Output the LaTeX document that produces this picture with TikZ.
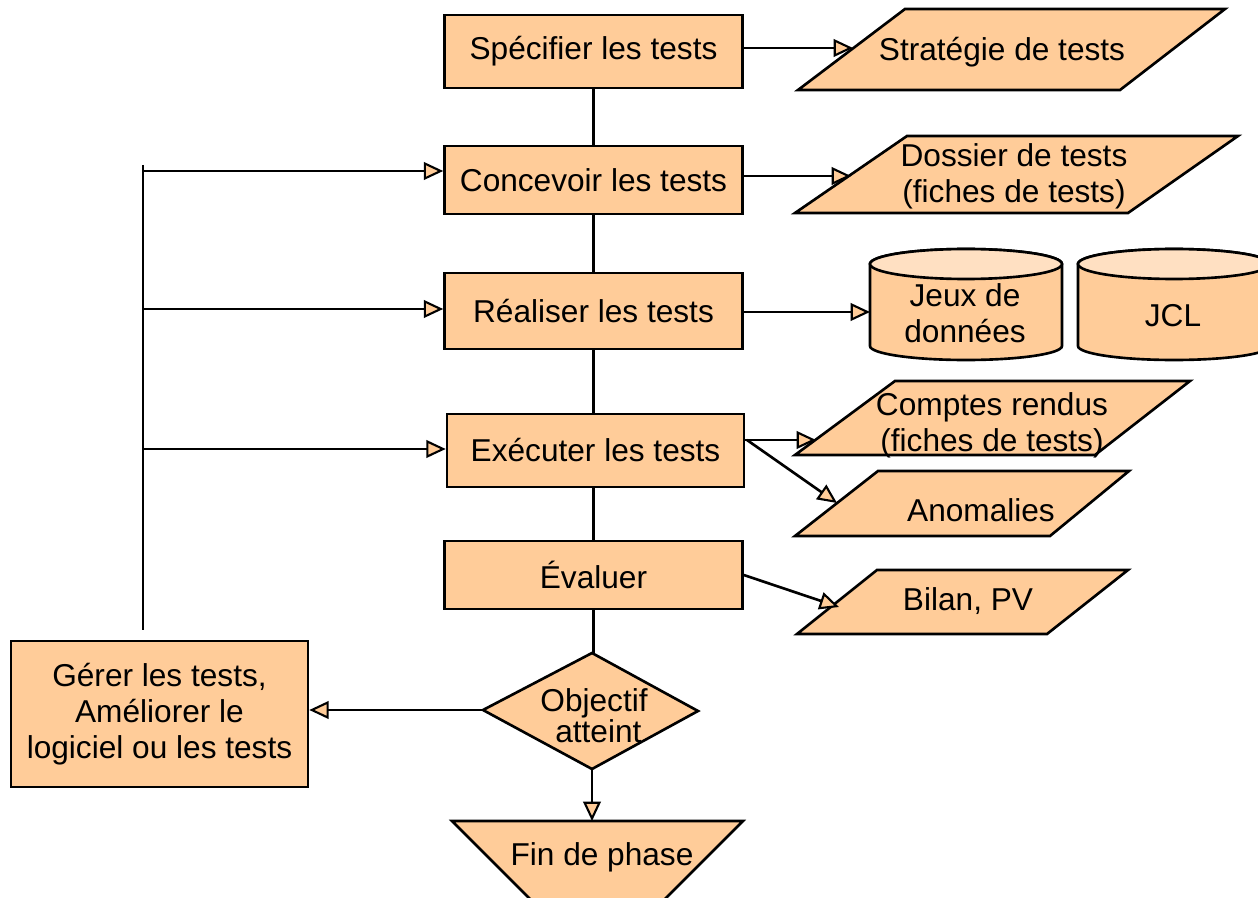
\documentclass[tikz,border=0pt]{standalone}
\usepackage{fontspec}
\setmainfont{Liberation Sans}
\usetikzlibrary{arrows.meta,shapes.geometric}
\definecolor{nfill}{RGB}{255,204,153}
\definecolor{ntop}{RGB}{255,224,194}
\begin{document}
\begin{tikzpicture}[x=0.02cm,y=-0.02cm,
  box/.style={draw,line width=1.5pt,fill=nfill,inner sep=0pt,align=center,font=\fontsize{18}{20.5}\selectfont},
  shp/.style={draw,line width=1.5pt,fill=nfill,line join=miter},
  lbl/.style={align=center,inner sep=0pt,font=\fontsize{18}{20.5}\selectfont},
  conn/.style={line width=1.5pt},
  arr/.style={conn,-{Triangle[length=11pt,width=10pt,fill=nfill,line width=1.2pt]}}]
\useasboundingbox (0,0) rectangle (1258,898);

% process boxes
\node[box,minimum width=5.96cm,minimum height=1.46cm] (spec) at (593.5,51.5) {Spécifier les tests};
\node[box,minimum width=5.96cm,minimum height=1.36cm] (conc) at (593.5,180) {Concevoir les tests};
\node[box,minimum width=5.96cm,minimum height=1.52cm] (real) at (593.5,311) {Réaliser les tests};
\node[box,minimum width=5.94cm,minimum height=1.46cm] (exec) at (595.5,450.5) {Exécuter les tests};
\node[box,minimum width=5.96cm,minimum height=1.36cm] (eval) at (593.5,575) {Évaluer};
\node[box,minimum width=5.94cm,minimum height=2.92cm] (gerer) at (159.5,714) {Gérer les tests,\\Améliorer le\\logiciel ou les tests};

% decision diamond
\coordinate (dtop) at (592,653);
\coordinate (dright) at (698,711);
\coordinate (dbot) at (592,769);
\coordinate (dleft) at (483,710);
\draw[shp] (dtop) -- (dright) -- (dbot) -- (dleft) -- cycle;
\node[lbl,font=\fontsize{18}{16}\selectfont] (obj) at (594,716) {Objectif\\\ atteint};

% end trapezoid
\draw[shp] (452,821) -- (743,821) -- (644,920) -- (551,920) -- cycle;
\coordinate (fintop) at (592,821);
\node[lbl] (fin) at (602,857) {Fin de phase};

% documents (parallelograms)
\draw[shp] (798,90) -- (905,9) -- (1225,9) -- (1120,90) -- cycle;
\node[lbl] (strat) at (1002,52) {Stratégie de tests};
\draw[shp] (795,213) -- (907,136) -- (1238,136) -- (1128,213) -- cycle;
\node[lbl] (doss) at (1014,176) {Dossier de tests\\(fiches de tests)};
\draw[shp] (795,455) -- (895,381) -- (1190,381) -- (1095,455) -- cycle;
\node[lbl] (cr) at (992,425) {Comptes rendus\\(fiches de tests)};
\draw[shp] (795,536) -- (878,471) -- (1129,471) -- (1050,536) -- cycle;
\node[lbl] (anom) at (981,510) {Anomalies};
\draw[shp] (797,634) -- (877,570) -- (1128,570) -- (1047,634) -- cycle;
\node[lbl] (bilan) at (968,601) {Bilan, PV};

% cylinders
\draw[shp] (870,264) -- (870,346) arc[start angle=180,end angle=360,x radius=1.92cm,y radius=0.28cm]
  -- (1062,264) arc[start angle=0,end angle=180,x radius=1.92cm,y radius=0.3cm] -- cycle;
\draw[shp,fill=ntop] (966,264) ellipse[x radius=1.92cm,y radius=0.3cm];
\node[lbl] (jeux) at (965,313) {Jeux de\\données};
\draw[shp] (1078,264) -- (1078,346) arc[start angle=180,end angle=360,x radius=1.92cm,y radius=0.28cm]
  -- (1270,264) arc[start angle=0,end angle=180,x radius=1.92cm,y radius=0.3cm] -- cycle;
\draw[shp,fill=ntop] (1174,264) ellipse[x radius=1.92cm,y radius=0.3cm];
\node[lbl] (jcl) at (1173,316) {JCL};

% main vertical flow
\draw[conn] (spec.south) -- (conc.north);
\draw[conn] (conc.south) -- (real.north);
\draw[conn] (real.south) -- (real.south |- exec.north);
\draw[conn] (eval.south |- exec.south) -- (eval.north);
\draw[conn] (eval.south) -- (eval.south |- dtop);
\draw[arr] (dbot) -- (fintop);
\draw[arr] (dleft) -- (dleft -| gerer.east);

% outputs
\coordinate (stratin) at (853,48);
\draw[arr] (spec.east |- stratin) -- (stratin);
\coordinate (dossin) at (851,176);
\draw[arr] (conc.east |- dossin) -- (dossin);
\coordinate (jeuxin) at (870,312);
\draw[arr] (real.east |- jeuxin) -- (jeuxin);
\coordinate (exo) at (747,440);
\coordinate (crin) at (816,440);
\coordinate (anin) at (837,503);
\draw[conn] (exec.east |- exo) -- (exo);
\draw[arr] (exo) -- (crin);
\draw[arr] (exo) -- (anin);
\coordinate (blin) at (839,607);
\draw[arr] (eval.east) -- (blin);

% feedback loop
\coordinate (ltop) at (143,165);
\coordinate (lbot) at (143,630);
\draw[conn] (ltop) -- (lbot);
\coordinate (b1) at (143,171);
\coordinate (b2) at (143,309);
\coordinate (b3) at (143,449);
\draw[arr] (b1) -- (b1 -| conc.west);
\draw[arr] (b2) -- (b2 -| real.west);
\draw[arr] (b3) -- (b3 -| exec.west);
\end{tikzpicture}
\end{document}
